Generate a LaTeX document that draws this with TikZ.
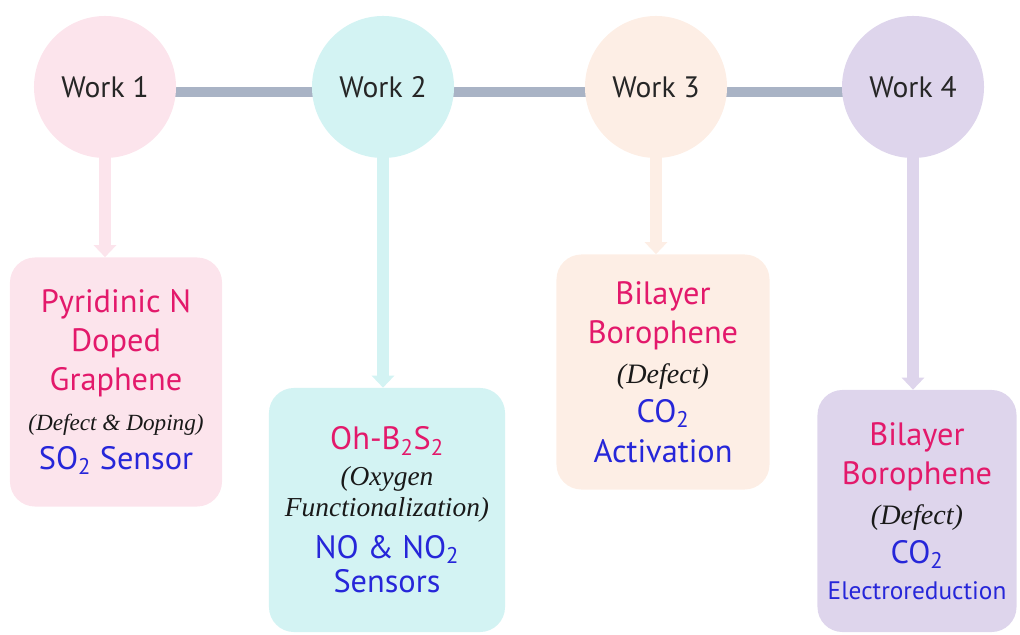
\documentclass[tikz,border=0pt]{standalone}
\usepackage{fontspec}
\usepackage{tikz}
\usetikzlibrary{%
	arrows.meta,%
	backgrounds,%
	shapes
}
\newfontfamily\worksf{PT Sans}
\newfontfamily\howsf{Liberation Serif}
\definecolor{pinkfill}{HTML}{FCE4EC}
\definecolor{cyanfill}{HTML}{D3F3F3}
\definecolor{peachfill}{HTML}{FDEEE5}
\definecolor{lilacfill}{HTML}{DED5EC}
\definecolor{linkgray}{HTML}{A9B3C5}
\definecolor{matpink}{HTML}{E3196B}
\definecolor{usebleu}{HTML}{2626D9}
\newcommand{\matl}[1]{{\color{matpink}#1}}
\newcommand{\usecase}[1]{{\color{usebleu}#1}}
\newcommand{\how}[2][16.5]{{\howsf\itshape\fontsize{#1}{20}\selectfont\color{black!90}#2}}

\tikzset{
	work/.style={circle, minimum size=3.55cm, inner sep=0pt, text=black!85,
		font=\worksf\fontsize{21}{24}\selectfont},
	card/.style={rounded corners=0.625cm, align=center, inner sep=0pt,
		font=\worksf\fontsize{23}{28}\selectfont},
	link/.style={line width=0.25cm, linkgray},
	drop/.style={line width=0.3cm, -{Triangle[width=0.55cm,length=0.3cm]}}
}

\begin{document}
\begin{tikzpicture}[x=0.025cm, y=-0.025cm]
	\useasboundingbox (0,0) rectangle (1020,635);

	% the four works
	\node[work, fill=pinkfill] (w1) at (105,87) {Work 1};
	\node[work, fill=cyanfill] (w2) at (383,87) {Work 2};
	\node[work, fill=peachfill] (w3) at (656,87) {Work 3};
	\node[work, fill=lilacfill] (w4) at (913,87) {Work 4};

	% what each one is about
	\node[card, fill=pinkfill, minimum width=5.3cm, minimum height=6.225cm] (b1) at (116,382) {%
		\matl{Pyridinic N}\\ \matl{Doped}\\ \matl{Graphene}\\
		\how{(Defect \& Doping)}\\ \usecase{SO\textsubscript{2} Sensor}};
	\node[card, fill=cyanfill, minimum width=5.9cm, minimum height=6.1cm] (b2) at (387,510) {%
		\matl{Oh-B\textsubscript{2}S\textsubscript{2}}\\[-0.1cm]
		\how[19.5]{(Oxygen}\\[-0.2cm] \how[19.5]{Functionalization)}\\[0.05cm]
		\usecase{NO \& NO\textsubscript{2}}\\[-0.12cm] \usecase{Sensors}};
	\node[card, fill=peachfill, minimum width=5.325cm, minimum height=5.875cm] (b3) at (663,372) {%
		\matl{Bilayer}\\ \matl{Borophene}\\ \how[20]{(Defect)}\\
		\usecase{CO\textsubscript{2}}\\ \usecase{Activation}};
	\node[card, fill=lilacfill, minimum width=4.975cm, minimum height=6.05cm] (b4) at (917,511) {%
		\matl{Bilayer}\\ \matl{Borophene}\\ \how[20]{(Defect)}\\
		\usecase{CO\textsubscript{2}}\\[-0.1cm] \usecase{\fontsize{18}{22}\selectfont Electroreduction}};

	% timeline behind the circles
	\begin{scope}[on background layer]
		\draw[link] ([yshift=-0.125cm]w1.center) -- ([yshift=-0.125cm]w2.center);
		\draw[link] ([yshift=-0.125cm]w2.center) -- ([yshift=-0.125cm]w3.center);
		\draw[link] ([yshift=-0.125cm]w3.center) -- ([yshift=-0.125cm]w4.center);
	\end{scope}

	\draw[drop, pinkfill] (w1) -- (w1 |- b1.north);
	\draw[drop, cyanfill] (w2) -- (w2 |- b2.north);
	\draw[drop, peachfill] (w3) -- (w3 |- b3.north);
	\draw[drop, lilacfill] (w4) -- (w4 |- b4.north);
\end{tikzpicture}
\end{document}
